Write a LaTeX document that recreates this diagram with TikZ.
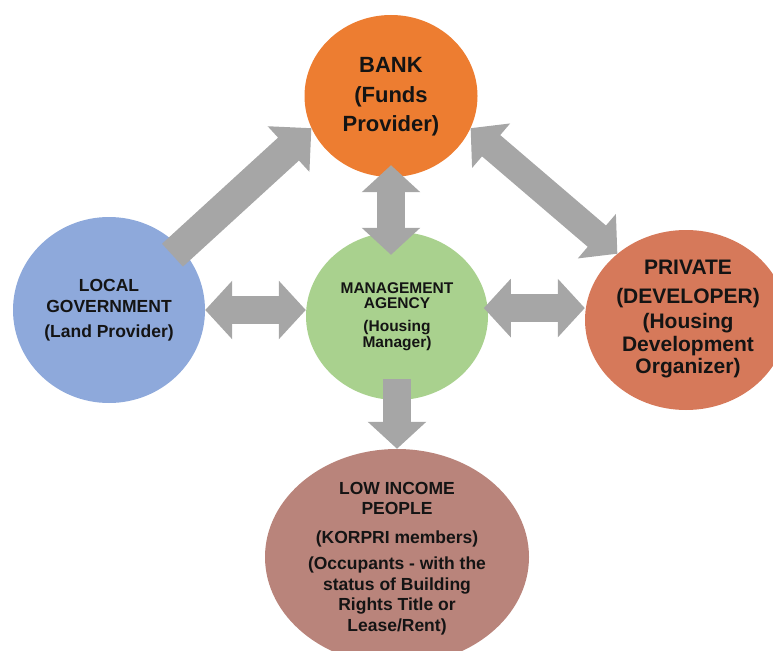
\documentclass[tikz,border=0pt]{standalone}
\usepackage{fontspec}
\setmainfont{Liberation Sans}
\usetikzlibrary{shapes.geometric,arrows.meta}

\definecolor{bankorange}{HTML}{ED7D31}
\definecolor{govblue}{HTML}{8EA9DB}
\definecolor{agencygreen}{HTML}{A9D18E}
\definecolor{devterra}{HTML}{D6795A}
\definecolor{peoplerose}{HTML}{B9847B}
\definecolor{flowgray}{HTML}{A6A6A6}
\definecolor{inkdark}{HTML}{141414}

\begin{document}
\begin{tikzpicture}[x=1pt,y=-1pt,
  party/.style={ellipse, inner sep=0pt, draw=none},
  caption/.style={inner sep=0pt, anchor=north, align=center, text=inkdark, font=\bfseries},
  flow/.style={draw=flowgray, line width=28pt, -{Triangle[width=57pt,length=27pt]}},
  flowbig/.style={draw=flowgray, line width=31pt, -{Triangle[width=60pt,length=31pt]}},
  flowboth/.style={draw=flowgray, line width=28pt,
    {Triangle[width=57pt,length=27pt]}-{Triangle[width=57pt,length=27pt]}},
]
\useasboundingbox (0,0) rectangle (773,650);

% the five parties
\node[party, fill=bankorange, minimum width=173pt, minimum height=162pt] (bank) at (391,96) {};
\node[party, fill=govblue, minimum width=192pt, minimum height=186pt] (gov) at (109,310) {};
\node[party, fill=agencygreen, minimum width=182pt, minimum height=168pt] (agency) at (397,316) {};
\node[party, fill=devterra, minimum width=202pt, minimum height=180pt] (dev) at (686,320) {};
\node[party, fill=peoplerose, minimum width=264pt, minimum height=216pt] (people) at (397,557) {};

% flows between the parties
\draw[flowbig, shorten <=-11pt] (gov.41) -- (bank.202);
\draw[flowboth] (bank.338) -- (dev.136);
\draw[flowboth, shorten <=-12pt, shorten >=-23pt] (bank.south) -- (bank.south |- agency.north);
\draw[flowboth] (gov.east) -- (gov.east -| agency.west);
\draw[flowboth, shorten <=-4pt] (agency.5) -- (agency.5 -| dev.west);
\draw[flow, shorten <=-21pt] (agency.south) -- (agency.south |- people.north);

% captions
\node[caption, font=\bfseries\fontsize{22}{30}\selectfont] (bank-txt) at (391,57)
  {BANK\\(Funds\\[-1pt]Provider)};
\node[caption, font=\bfseries\fontsize{17.5}{21}\selectfont] (gov-txt) at (109,279.5)
  {LOCAL\\GOVERNMENT\\[4pt](Land Provider)};
\node[caption, font=\bfseries\fontsize{15.5}{16}\selectfont] (agency-txt) at (397,282)
  {MANAGEMENT\\[-1pt]AGENCY\\[7pt](Housing\\Manager)};
\node[caption, font=\bfseries\fontsize{21}{22.5}\selectfont] (dev-txt) at (688,260)
  {PRIVATE\\[6pt](DEVELOPER)\\[3pt](Housing\\Development\\Organizer)};
\node[caption, font=\bfseries\fontsize{17.5}{20.5}\selectfont] (people-txt) at (397,482)
  {LOW INCOME\\PEOPLE\\[8pt](KORPRI members)\\[6pt](Occupants - with the\\status of Building\\Rights Title or\\Lease/Rent)};
\end{tikzpicture}
\end{document}
